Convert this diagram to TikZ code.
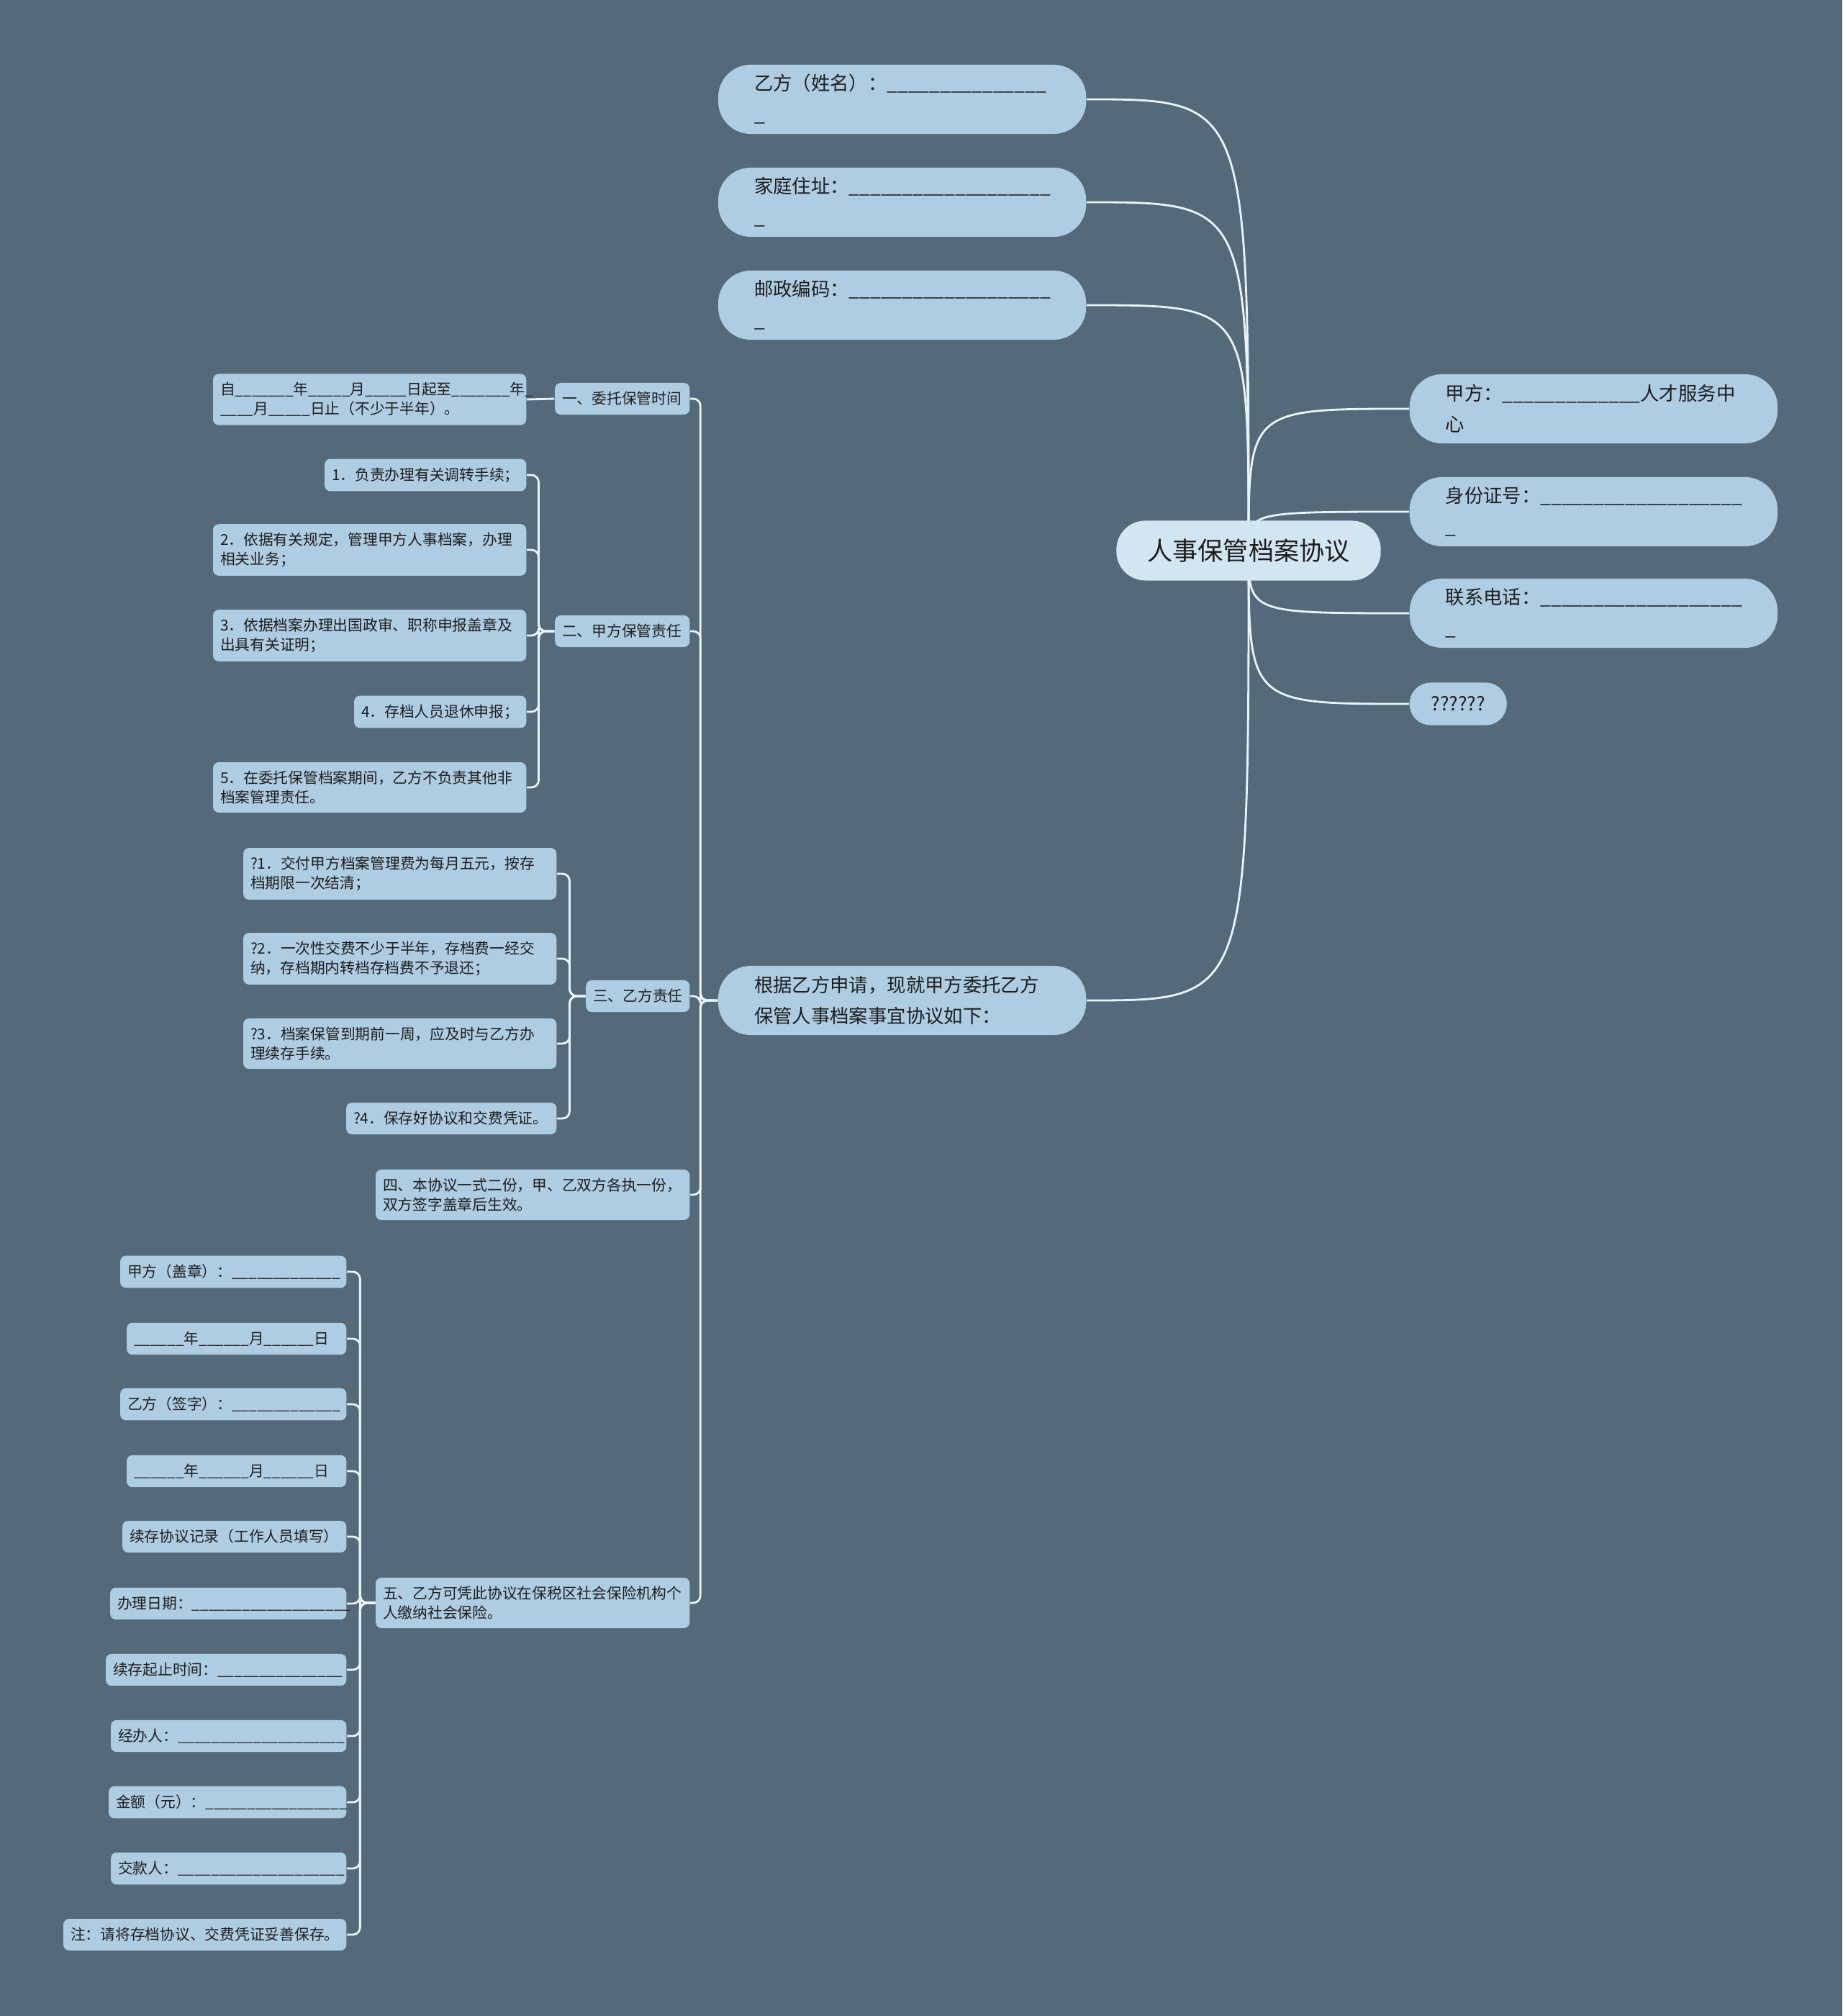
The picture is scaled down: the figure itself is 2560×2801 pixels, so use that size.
\documentclass[tikz,border=0pt]{standalone}
\usepackage{fontspec}
\setmainfont{Noto Sans CJK SC}
\usetikzlibrary{backgrounds}
\definecolor{bgcol}{RGB}{84,106,122}
\definecolor{boxcol}{RGB}{174,204,226}
\definecolor{rootcol}{RGB}{210,230,242}
\definecolor{linecol}{RGB}{232,244,250}
\definecolor{txtcol}{RGB}{30,30,30}
% a run of underscores for the blanks to fill in
\newcommand{\blank}[1]{\foreach \n in {1,...,#1}{\_}}
\tikzset{
  rootbox/.style={fill=rootcol, rounded corners=0.4cm, inner xsep=0.43cm, minimum height=0.83cm, font=\fontsize{10}{12}\selectfont, text=txtcol},
  mainbox/.style={fill=boxcol, rounded corners=0.45cm, inner xsep=0.5cm, inner ysep=0.13cm, minimum height=0.96cm, text width=4.11cm, align=left, font=\fontsize{7.5}{12.2}\selectfont, text=txtcol},
  qbox/.style={fill=boxcol, rounded corners=0.29cm, inner xsep=0.3cm, minimum height=0.59cm, font=\fontsize{7.5}{9}\selectfont, text=txtcol},
  leaf/.style={fill=boxcol, rounded corners=0.08cm, inner xsep=0.1cm, inner ysep=0.12cm, minimum height=0.44cm, align=left, font=\fontsize{5.9}{7.6}\selectfont, text=txtcol},
  link/.style={draw=linecol, line width=0.8pt},
  spine/.style={draw=linecol, line width=0.8pt, rounded corners=0.1cm}
}
\begin{document}
\begin{tikzpicture}[x=0.01cm, y=-0.01cm]
\useasboundingbox (0,0) rectangle (2560,2801);
% centre
\node[rootbox] (root) at (1735,765) {人事保管档案协议};
% right side
\node[mainbox, anchor=west] (jiafang) at (1958,568) {甲方：\blank{13}人才服务中\\心};
\node[mainbox, anchor=west] (shenfen) at (1958,711) {身份证号：\blank{19}\\\_};
\node[mainbox, anchor=west] (dianhua) at (1958,852) {联系电话：\blank{19}\\\_};
\node[qbox, anchor=west] (wenhao) at (1958,978) {??????};
% left side
\node[mainbox, anchor=east] (yifang) at (1510,138) {乙方（姓名）：\blank{15}\\\_};
\node[mainbox, anchor=east] (zhuzhi) at (1510,281) {家庭住址：\blank{19}\\\_};
\node[mainbox, anchor=east] (youbian) at (1510,424) {邮政编码：\blank{19}\\\_};
\node[mainbox, anchor=east] (genju) at (1510,1390) {根据乙方申请，现就甲方委托乙方\\保管人事档案事宜协议如下：};
% clauses
\node[leaf, text width=1.67cm, anchor=east] (yi) at (959,554) {一、委托保管时间};
\node[leaf, text width=1.67cm, anchor=east] (er) at (959,877) {二、甲方保管责任};
\node[leaf, text width=1.24cm, anchor=east] (san) at (959,1384) {三、乙方责任};
\node[leaf, text width=4.16cm, anchor=east] (si) at (959,1660) {四、本协议一式二份，甲、乙双方各执一份，\\双方签字盖章后生效。};
\node[leaf, text width=4.16cm, anchor=east] (wu) at (959,2227) {五、乙方可凭此协议在保税区社会保险机构个\\人缴纳社会保险。};
% clause one
\node[leaf, text width=4.15cm, anchor=east] (qixian) at (732,555) {自\blank{7}年\blank{5}月\blank{5}日起至\blank{7}年\_\\\blank{4}月\blank{5}日止（不少于半年）。};
% clause two
\node[leaf, text width=2.60cm, anchor=east] (jia1) at (732,660) {1．负责办理有关调转手续；};
\node[leaf, text width=4.15cm, anchor=east] (jia2) at (732,764) {2．依据有关规定，管理甲方人事档案，办理\\相关业务；};
\node[leaf, text width=4.15cm, anchor=east] (jia3) at (732,883) {3．依据档案办理出国政审、职称申报盖章及\\出具有关证明；};
\node[leaf, text width=2.19cm, anchor=east] (jia4) at (732,989) {4．存档人员退休申报；};
\node[leaf, text width=4.15cm, anchor=east] (jia5) at (732,1094) {5．在委托保管档案期间，乙方不负责其他非\\档案管理责任。};
% clause three
\node[leaf, text width=4.15cm, anchor=east] (yi1) at (774,1214) {?1．交付甲方档案管理费为每月五元，按存\\档期限一次结清；};
\node[leaf, text width=4.15cm, anchor=east] (yi2) at (774,1332) {?2．一次性交费不少于半年，存档费一经交\\纳，存档期内转档存档费不予退还；};
\node[leaf, text width=4.15cm, anchor=east] (yi3) at (774,1450) {?3．档案保管到期前一周，应及时与乙方办\\理续存手续。};
\node[leaf, text width=2.72cm, anchor=east] (yi4) at (774,1554) {?4．保存好协议和交费凭证。};
% clause five
\node[leaf, text width=2.94cm, anchor=east] (qz1) at (482,1767) {甲方（盖章）：\blank{13}};
\node[leaf, text width=2.85cm, anchor=east] (qz2) at (482,1860) {\blank{6}年\blank{6}月\blank{6}日};
\node[leaf, text width=2.94cm, anchor=east] (qz3) at (482,1951) {乙方（签字）：\blank{13}};
\node[leaf, text width=2.85cm, anchor=east] (qz4) at (482,2044) {\blank{6}年\blank{6}月\blank{6}日};
\node[leaf, text width=2.91cm, anchor=east] (qz5) at (482,2135) {续存协议记录（工作人员填写）};
\node[leaf, text width=3.08cm, anchor=east] (qz6) at (482,2228) {办理日期：\blank{19}};
\node[leaf, text width=3.14cm, anchor=east] (qz7) at (482,2320) {续存起止时间：\blank{15}};
\node[leaf, text width=3.07cm, anchor=east] (qz8) at (482,2412) {经办人：\blank{20}};
\node[leaf, text width=3.10cm, anchor=east] (qz9) at (482,2504) {金额（元）：\blank{17}};
\node[leaf, text width=3.07cm, anchor=east] (qz10) at (482,2596) {交款人：\blank{20}};
\node[leaf, text width=3.73cm, anchor=east] (qz11) at (482,2688) {注：请将存档协议、交费凭证妥善保存。};

\begin{pgfonlayer}{background}
\fill[bgcol] (0,0) rectangle (2560,2801);
% from the centre
\draw[link] (root.center) .. controls (root.center |- yifang.east) .. (yifang.east);
\draw[link] (root.center) .. controls (root.center |- zhuzhi.east) .. (zhuzhi.east);
\draw[link] (root.center) .. controls (root.center |- youbian.east) .. (youbian.east);
\draw[link] (root.center) .. controls (root.center |- genju.east) .. (genju.east);
\draw[link] (root.center) .. controls (root.center |- jiafang.west) .. (jiafang.west);
\draw[link] (root.center) .. controls (root.center |- shenfen.west) .. (shenfen.west);
\draw[link] (root.center) .. controls (root.center |- dianhua.west) .. (dianhua.west);
\draw[link] (root.center) .. controls (root.center |- wenhao.west) .. (wenhao.west);
% clauses
\foreach \c in {yi,er,san,si,wu}
  \draw[spine] (genju.west) -- ++(-24,0) |- (\c.east);
\draw[link] (yi.west) -- (qixian.east);
\foreach \c in {jia1,jia2,jia3,jia4,jia5}
  \draw[spine] (er.west) -- ++(-22,0) |- (\c.east);
\foreach \c in {yi1,yi2,yi3,yi4}
  \draw[spine] (san.west) -- ++(-22,0) |- (\c.east);
\foreach \c in {qz1,qz2,qz3,qz4,qz5,qz6,qz7,qz8,qz9,qz10,qz11}
  \draw[spine] (wu.west) -- ++(-21,0) |- (\c.east);
\end{pgfonlayer}
\end{tikzpicture}
\end{document}
